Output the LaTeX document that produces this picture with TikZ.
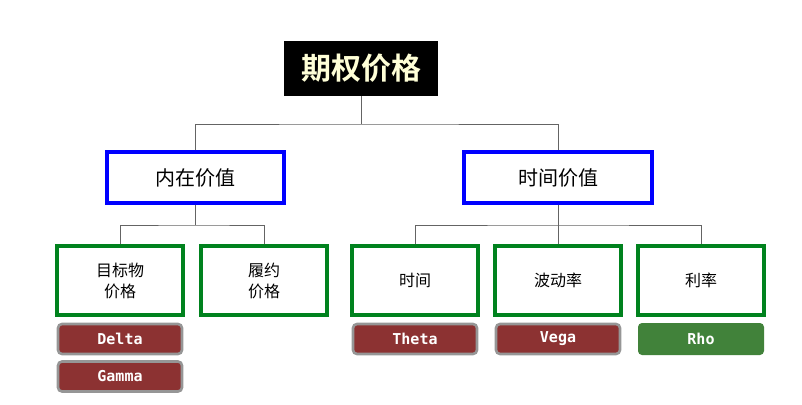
\documentclass[tikz,border=0pt]{standalone}
\usepackage{fontspec}
\newfontfamily\cjk[BoldFont={Noto Sans CJK SC Bold}]{Noto Sans CJK SC}
\newfontfamily\badgefont{DejaVu Sans Mono}
\usetikzlibrary{positioning}
\definecolor{boxblue}{RGB}{0,0,255}
\definecolor{boxgreen}{RGB}{0,130,30}
\definecolor{badgered}{RGB}{140,50,50}
\definecolor{badgegreen}{RGB}{65,130,58}
\definecolor{badgegray}{RGB}{150,150,150}
\definecolor{linkgray}{RGB}{100,100,100}
\definecolor{titleyellow}{RGB}{255,255,215}
\tikzset{
  topbox/.style={fill=black,text=titleyellow,minimum width=154pt,minimum height=55pt,font=\cjk\bfseries\fontsize{30}{34}\selectfont},
  midbox/.style={draw=boxblue,line width=3.2pt,fill=white,minimum height=51pt,font=\cjk\fontsize{20}{24}\selectfont},
  leafbox/.style={draw=boxgreen,line width=3.2pt,fill=white,minimum width=126pt,minimum height=69pt,align=center,font=\cjk\fontsize{16}{21}\selectfont},
  greek/.style={draw=badgegray,line width=2.6pt,fill=badgered,rounded corners=4pt,text=white,minimum width=124pt,minimum height=30pt,font=\badgefont\bfseries\fontsize{15}{17}\selectfont},
  greekgreen/.style={greek,draw=none,fill=badgegreen,minimum width=126pt,minimum height=32pt},
  link/.style={draw=linkgray,line width=0.8pt}
}
\begin{document}
\begin{tikzpicture}[x=1pt,y=-1pt]
%%
  \useasboundingbox (0,0) rectangle (802,404);
  \node (root) at (361,68.5) [topbox] {期权价格};
  \node (intrinsic) at (195.5,177.5) [midbox,minimum width=177pt] {内在价值};
  \node (timevalue) at (558,177.5) [midbox,minimum width=188pt] {时间价值};
  \node (spot) at (120,280.5) [leafbox] {目标物\\价格};
  \node (strike) at (264,280.5) [leafbox] {履约\\价格};
  \node (tenor) at (415,280.5) [leafbox] {时间};
  \node (vol) at (558,280.5) [leafbox] {波动率};
  \node (rate) at (701,280.5) [leafbox] {利率};
  \node (delta) at (120,339) [greek] {Delta};
  \node (gamma) at (120,376.5) [greek] {Gamma};
  \node (theta) at (415,339) [greek] {Theta};
  \node (vega) at (558,339) [greek] {Vega};
  \node (rho) at (701,339) [greekgreen] {Rho};
%
  \coordinate (j1) at (361,124);
  \coordinate (j2) at (195.5,225);
  \coordinate (j3) at (558,225);
  \draw [link] (root.south) -- (j1);
  \draw [link] (intrinsic.north) |- (j1) -| (timevalue.north);
  \draw [link] (intrinsic.south) -- (j2);
  \draw [link] (spot.north) |- (j2) -| (strike.north);
  \draw [link] (timevalue.south) -- (vol.north);
  \draw [link] (tenor.north) |- (j3) -| (rate.north);
%
\end{tikzpicture}
\end{document}
